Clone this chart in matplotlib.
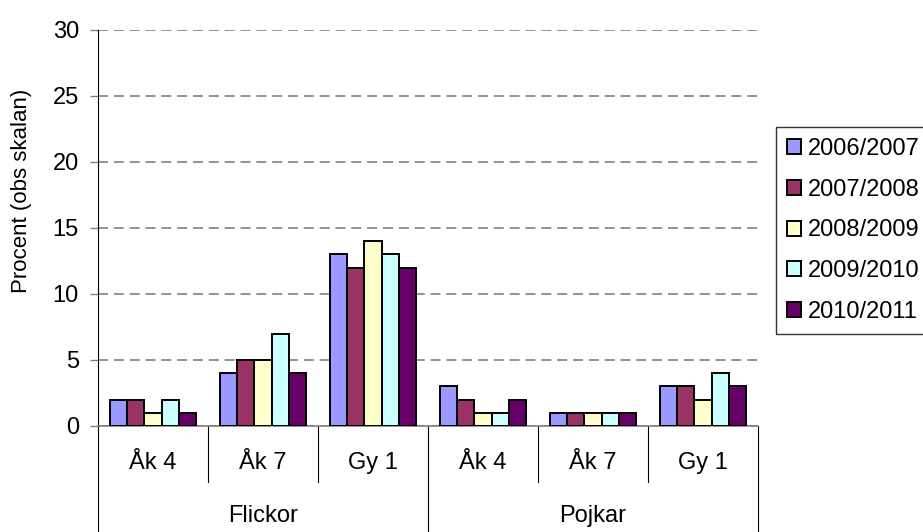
import matplotlib.pyplot as plt
import matplotlib.transforms as mtransforms
import numpy as np

plt.rcParams['font.family'] = ['Liberation Sans', 'DejaVu Sans']

groups = ['Flickor', 'Pojkar']
categories = ['Åk 4', 'Åk 7', 'Gy 1', 'Åk 4', 'Åk 7', 'Gy 1']
series = ['2006/2007', '2007/2008', '2008/2009', '2009/2010', '2010/2011']
values = [
    [2, 4, 13, 3, 1, 3],
    [2, 5, 12, 2, 1, 3],
    [1, 5, 14, 1, 1, 2],
    [2, 7, 13, 1, 1, 4],
    [1, 4, 12, 2, 1, 3],
]
colors = ['#9999FF', '#993366', '#FFFFCC', '#CCFFFF', '#660066']

FS = 17

fig = plt.figure(figsize=(9.23, 5.32), dpi=100)
ax = fig.add_axes([98 / 923, 1 - 426 / 532, 660 / 923, 396 / 532])

x = np.arange(len(categories))
width = 0.156
offsets = (np.arange(len(series)) - 2) * width
handles = []
for i, name in enumerate(series):
    b = ax.bar(x + offsets[i], values[i], width, color=colors[i],
               edgecolor='black', linewidth=1.4, label=name, zorder=3)
    handles.append(b)

ax.set_xlim(-0.5, len(categories) - 0.5)
ax.set_ylim(0, 30)
ax.set_yticks(range(0, 31, 5))
ax.tick_params(axis='y', labelsize=FS, length=5.8, width=1, color='#808080',
               direction='out', pad=8)
ax.set_xticks([])
ax.yaxis.grid(True, linestyle=(0, (6, 3.5)), color='#808080', linewidth=1.2, zorder=0)
for s in ['top', 'right']:
    ax.spines[s].set_visible(False)
ax.spines['left'].set_color('black')
ax.spines['bottom'].set_color('#808080')
ax.spines['bottom'].set_linewidth(1.2)
fig.text(22 / 923, 1 - 191 / 532, 'Procent (obs skalan)', rotation=90,
         ha='center', va='center', fontsize=FS - 1)

# multi-level category axis
trans = mtransforms.blended_transform_factory(ax.transData, ax.transAxes)
for k in range(len(categories) + 1):
    xs = k - 0.5
    y_end = -0.27 if k % 3 == 0 else -0.141
    ax.plot([xs, xs], [0, y_end], color='black', linewidth=0.8,
            transform=trans, clip_on=False)
for k, lab in enumerate(categories):
    ax.text(k, -0.093, lab, transform=trans, ha='center', va='center', fontsize=FS)
for g, lab in enumerate(groups):
    ax.text(g * 3 + 1, -0.227, lab, transform=trans, ha='center', va='center', fontsize=FS)

leg = fig.legend(handles=handles, loc='upper left',
                 bbox_to_anchor=(776 / 923, 1 - 127 / 532),
                 fontsize=FS, frameon=True, fancybox=False,
                 edgecolor='black', handlelength=0.6, handleheight=0.6,
                 handletextpad=0.3, labelspacing=0.8, borderpad=0.45,
                 borderaxespad=0)
leg.get_frame().set_linewidth(1.0)

plt.savefig('out.png', dpi=100)
